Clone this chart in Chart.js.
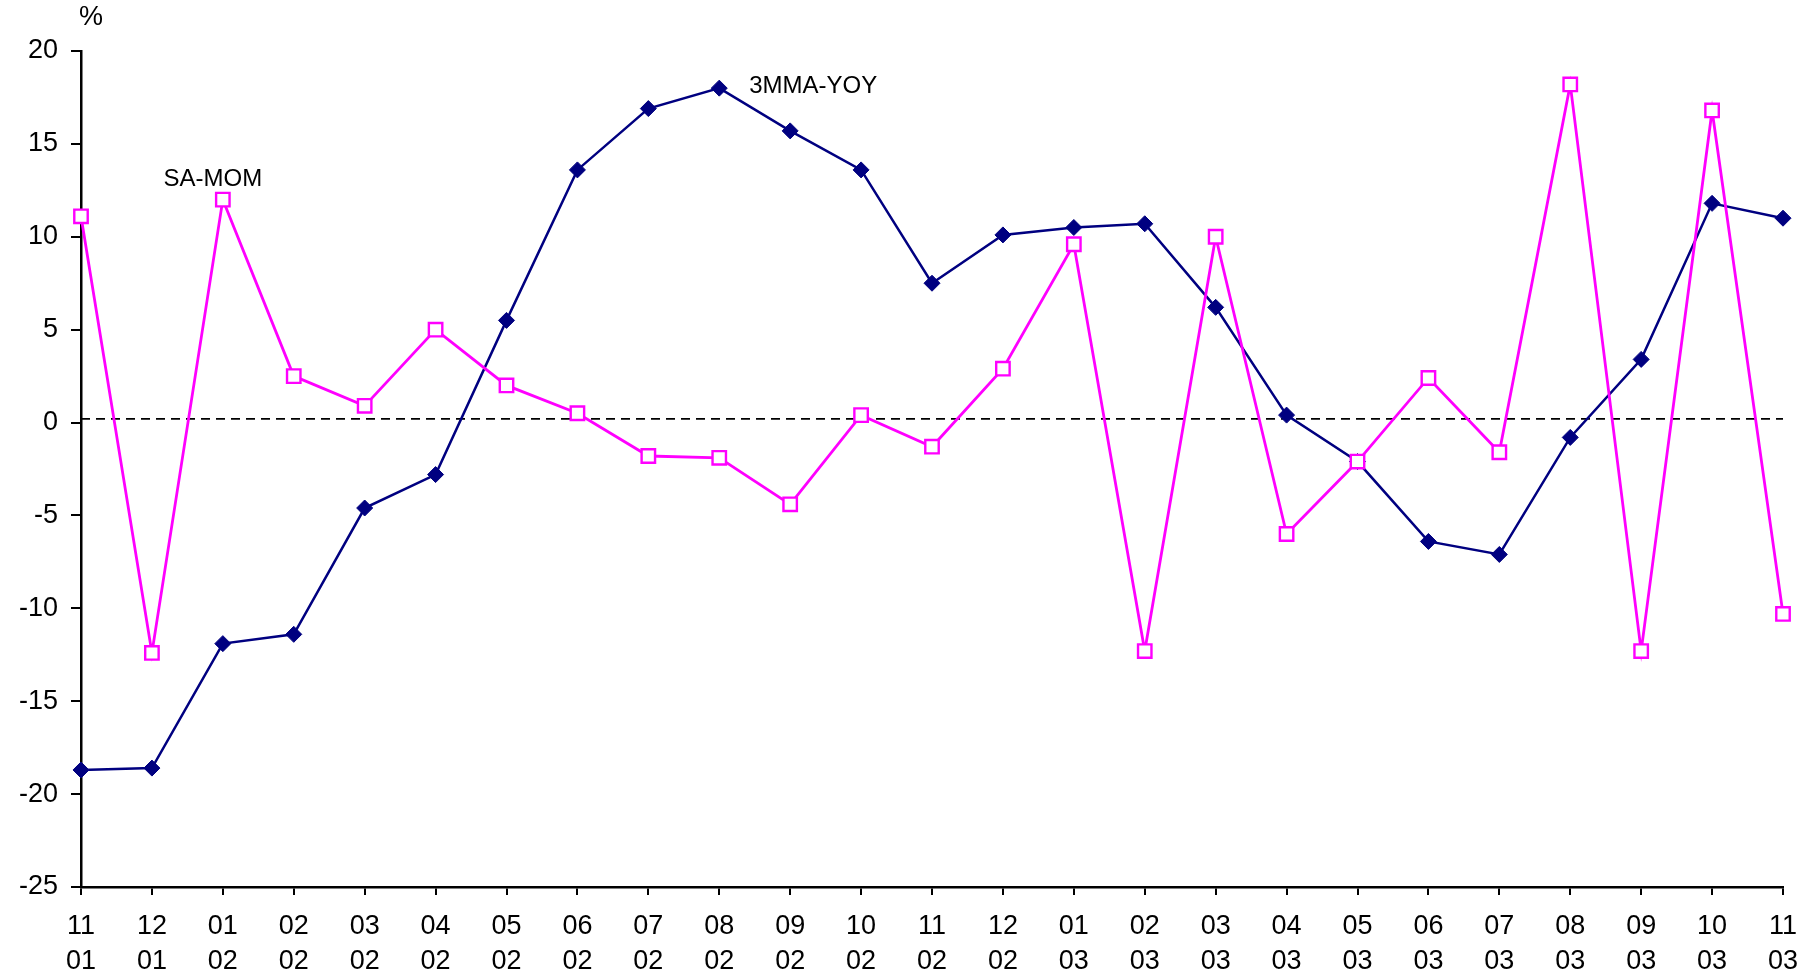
<!DOCTYPE html>
<html>
<head>
<meta charset="utf-8">
<style>
  html, body { margin: 0; padding: 0; background: #fff; }
  #wrap { width: 1816px; height: 979px; }
</style>
<script src="https://cdn.jsdelivr.net/npm/chart.js@4.4.1/dist/chart.umd.min.js"></script>
</head>
<body>
<div id="wrap"><canvas id="c" width="1816" height="979"></canvas></div>
<script>
const months = ['11','12','01','02','03','04','05','06','07','08','09','10','11','12','01','02','03','04','05','06','07','08','09','10','11'];
const years  = ['01','01','02','02','02','02','02','02','02','02','02','02','02','02','03','03','03','03','03','03','03','03','03','03','03'];
const seriesNames = ['3MMA-YOY', 'SA-MOM'];
const mmaYoy = [-18.7, -18.6, -11.9, -11.4, -4.6, -2.8, 5.5, 13.6, 16.9, 18.0, 15.7, 13.6, 7.5, 10.1, 10.5, 10.7, 6.2, 0.4, -2.1, -6.4, -7.1, -0.8, 3.4, 11.8, 11.0];
const saMom  = [11.1, -12.4, 12.0, 2.5, 0.9, 5.0, 2.0, 0.5, -1.8, -1.9, -4.4, 0.4, -1.3, 2.9, 9.6, -12.3, 10.0, -6.0, -2.1, 2.4, -1.6, 18.2, -12.3, 16.8, -10.3];
const refLevel = 0.2;
const yTicks = { min: -25, max: 20, step: 5 };

const labels = months.map((m, i) => [m, years[i]]);
const FONT = '"Liberation Sans", Arial, sans-serif';

const annot = {
  id: 'annot',
  afterDatasetsDraw(chart) {
    const { ctx, scales: { x, y } } = chart;
    ctx.save();
    ctx.fillStyle = '#000';
    ctx.textBaseline = 'middle';
    ctx.font = '24px ' + FONT;
    ctx.textAlign = 'center';
    ctx.fillText(seriesNames[1], x.getPixelForValue(2) - 10, y.getPixelForValue(saMom[2]) - 20);
    ctx.textAlign = 'left';
    ctx.fillText(seriesNames[0], x.getPixelForValue(9) + 30, y.getPixelForValue(mmaYoy[9]) - 2);
    ctx.font = '27px ' + FONT;
    ctx.textAlign = 'center';
    ctx.fillText('%', x.left + 10, y.top - 33);
    ctx.restore();
  }
};

new Chart(document.getElementById('c'), {
  type: 'line',
  data: {
    labels,
    datasets: [
      {
        label: seriesNames[1],
        data: saMom,
        borderColor: '#FF00FF',
        backgroundColor: '#FFFFFF',
        borderWidth: 2.8,
        pointStyle: 'rect',
        pointRadius: 9.5,
        pointBorderWidth: 2.4,
        pointBackgroundColor: '#FFFFFF',
        pointBorderColor: '#FF00FF',
        tension: 0,
        order: 0
      },
      {
        label: seriesNames[0],
        data: mmaYoy,
        borderColor: '#000080',
        backgroundColor: '#000080',
        borderWidth: 2.5,
        pointStyle: 'rectRot',
        pointRadius: 8,
        pointBorderWidth: 1,
        pointBackgroundColor: '#000080',
        pointBorderColor: '#000080',
        tension: 0,
        order: 1
      },
      {
        label: 'zero',
        data: months.map(() => refLevel),
        borderColor: '#000000',
        borderWidth: 1.6,
        borderDash: [9, 6],
        pointRadius: 0,
        tension: 0,
        order: 2
      }
    ]
  },
  options: {
    responsive: false,
    devicePixelRatio: 1,
    animation: false,
    layout: { padding: { left: 0, right: 33, top: 51, bottom: 0 } },
    plugins: { legend: { display: false }, tooltip: { enabled: false } },
    scales: {
      x: {
        offset: false,
        grid: { drawOnChartArea: false, drawTicks: true, tickLength: 8, color: '#000', lineWidth: 2 },
        border: { display: true, color: '#000', width: 2.5 },
        ticks: { color: '#000', font: { family: FONT, size: 27, lineHeight: 1.3 }, padding: 14, maxRotation: 0, autoSkip: false },
        afterFit(scale) { scale.height = 92; }
      },
      y: {
        min: yTicks.min,
        max: yTicks.max,
        grid: { drawOnChartArea: false, drawTicks: true, tickLength: 10, color: '#000', lineWidth: 2 },
        border: { display: true, color: '#000', width: 2.5 },
        ticks: { stepSize: yTicks.step, color: '#000', font: { family: FONT, size: 27 }, padding: 13 },
        afterFit(scale) { scale.width = 81; }
      }
    }
  },
  plugins: [annot]
});
</script>
</body>
</html>
